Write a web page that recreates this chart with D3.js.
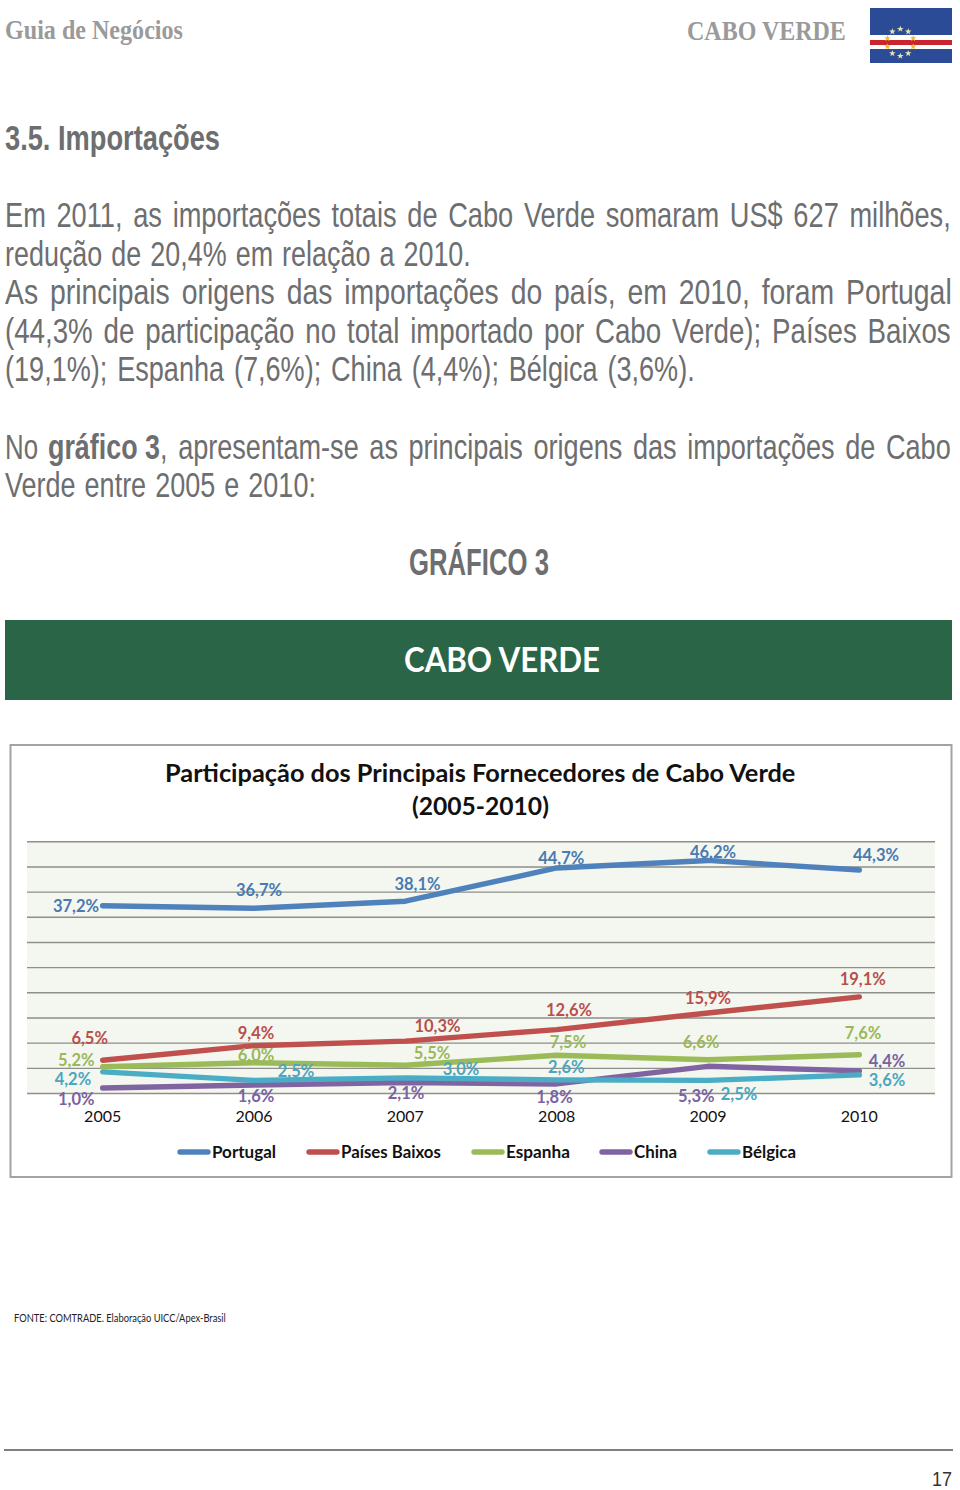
<!DOCTYPE html>
<html>
<head>
<meta charset="utf-8">
<script src="https://cdn.jsdelivr.net/npm/d3@7"></script>
<style>
  html, body { margin: 0; padding: 0; background: #fff; }
  svg { display: block; }
</style>
</head>
<body>
<div id="page"></div>
<script>
var years = ['2005', '2006', '2007', '2008', '2009', '2010'];
var seriesNames = ['Portugal', 'Países Baixos', 'Espanha', 'China', 'Bélgica'];
var portugal = [37.2, 36.7, 38.1, 44.7, 46.2, 44.3];
var paisesBaixos = [6.5, 9.4, 10.3, 12.6, 15.9, 19.1];
var espanha = [5.2, 6.0, 5.5, 7.5, 6.6, 7.6];
var china = [1.0, 1.6, 2.1, 1.8, 5.3, 4.4];
var belgica = [4.2, 2.5, 3.0, 2.6, 2.5, 3.6];
var gridTicks = [0, 5, 10, 15, 20, 25, 30, 35, 40, 45, 50];

var lineColors = ['#4f81bd', '#c0504d', '#9bbb59', '#8064a2', '#4bacc6'];
var labelColors = ['#4a7ab0', '#b94f4c', '#9ab75c', '#7b62a0', '#4ba6bf'];

// where each value label sits relative to its point
var labelDx = [
    [-26.7, 5, 12.2, 4.6, 5, 16.7],
    [-13, 2, 32.2, 12.3, 0, 3.4],
    [-26.4, 2, 26.7, 11.3, -7, 3.7],
    [-26.4, 2, 0.7, -2.2, -11.7, 27.7],
    [-29.7, 42, 55.7, 9.6, 31, 27.7]
];
var labelDy = [
    [6.3, -12.6, -11.2, -4, -2.4, -9.3],
    [-16.3, -6.7, -9.1, -13.6, -9, -11.8],
    [-1.1, -2.1, -6.6, -7.2, -11.8, -16],
    [17, 17, 16.6, 19, 35.4, -4.2],
    [12.8, -3.7, -2.9, -7.2, 19.6, 11.1]
];
var legendLineX = [177, 306, 471, 599, 707];
var legendTextWidth = [64, 100, 64, 43, 54];

var grey = '#6d6e70',
    narrow = '"Liberation Sans Narrow", "Liberation Sans", sans-serif',
    serif = '"Liberation Serif", serif',
    chartFont = 'Lato, "Open Sans", sans-serif';

var svg = d3.select('#page').append('svg')
    .attr('width', 960)
    .attr('height', 1490);

svg.append('rect')
    .attr('width', 960)
    .attr('height', 1490)
    .attr('fill', '#fff');

// every text is scaled horizontally to the width it has on the page
var put = function(parent, str, x, y, width, size, family, color, weight, wordGap) {
    var text = parent.append('text')
        .style('font-family', family)
        .style('font-size', size + 'px')
        .style('font-weight', weight || 'normal')
        .style('word-spacing', (wordGap || 0) + 'px')
        .attr('fill', color)
        .text(str);
    var sx = width / text.node().getComputedTextLength();
    return text.attr('transform', 'translate(' + x + ',' + y + ') scale(' + sx + ',1)');
};

// page header
put(svg, 'Guia de Negócios', 5, 39, 178, 27, serif, '#9a9a9a', 'bold');
put(svg, 'CABO VERDE', 687, 40, 159, 27, serif, '#9a9a9a', 'bold');

var flag = svg.append('g');
flag.append('rect').attr('x', 870).attr('y', 8).attr('width', 82).attr('height', 55).attr('fill', '#2c4b96');
flag.append('rect').attr('x', 870).attr('y', 35).attr('width', 82).attr('height', 14).attr('fill', '#fff');
flag.append('rect').attr('x', 870).attr('y', 40).attr('width', 82).attr('height', 5).attr('fill', '#c9252f');
flag.selectAll('path')
    .data(d3.range(10))
    .enter()
    .append('path')
    .attr('d', d3.symbol().type(d3.symbolStar).size(14))
    .attr('fill', function(d) { return d === 2 || d === 3 || d === 7 || d === 8 ? '#f0b93a' : '#e9e6b0'; })
    .attr('transform', function(d) {
        var angle = d * Math.PI / 5;
        return 'translate(' + (900.3 + 13.5 * Math.sin(angle)) + ',' + (42.5 - 13.5 * Math.cos(angle)) + ')';
    });

// page text
put(svg, '3.5. Importações', 5, 150, 215, 35, narrow, grey, 'bold');
put(svg, 'Em 2011, as importações totais de Cabo Verde somaram US$ 627 milhões,', 5, 227, 946, 35, narrow, grey, 'normal', 4);
put(svg, 'redução de 20,4% em relação a 2010.', 5, 266, 466, 35, narrow, grey, 'normal', 2);
put(svg, 'As principais origens das importações do país, em 2010, foram Portugal', 5, 304, 947, 35, narrow, grey, 'normal', 5);
put(svg, '(44,3% de participação no total importado por Cabo Verde); Países Baixos', 5, 343, 946, 35, narrow, grey, 'normal', 4);
put(svg, '(19,1%); Espanha (7,6%); China (4,4%); Bélgica (3,6%).', 5, 381, 690, 35, narrow, grey, 'normal', 3);
put(svg, 'No', 5, 459, 33, 35, narrow, grey);
put(svg, 'gráfico 3', 48, 459, 112, 35, narrow, grey, 'bold');
put(svg, ', apresentam-se as principais origens das importações de Cabo', 160, 459, 791, 35, narrow, grey, 'normal', 4);
put(svg, 'Verde entre 2005 e 2010:', 5, 497, 311, 35, narrow, grey, 'normal', 2);
put(svg, 'GRÁFICO 3', 409, 575, 140, 37, narrow, grey, 'bold');

svg.append('rect').attr('x', 5).attr('y', 620).attr('width', 947).attr('height', 80).attr('fill', '#2b6548');
put(svg, 'CABO VERDE', 404, 672, 196, 34, chartFont, '#fff', 'bold');

// chart
svg.append('rect')
    .attr('x', 10.5).attr('y', 745)
    .attr('width', 941).attr('height', 432)
    .attr('fill', '#fff')
    .attr('stroke', '#a3a3a3')
    .attr('stroke-width', 2);

put(svg, 'Participação dos Principais Fornecedores de Cabo Verde', 165, 782, 631, 25, chartFont, '#111', 'bold');
put(svg, '(2005-2010)', 412, 815, 137, 25, chartFont, '#111', 'bold');

var x = d3.scalePoint().domain(years).range([27, 935]).padding(0.5),
    y = d3.scaleLinear().domain([0, 50]).range([1093, 841.3]);

svg.append('rect')
    .attr('x', 27).attr('y', y(50))
    .attr('width', 908).attr('height', y(0) - y(50))
    .attr('fill', '#f4f7ef');

var grid = svg.append('g')
    .attr('transform', 'translate(27,0)')
    .call(d3.axisLeft(y).tickValues(gridTicks).tickSize(-908).tickFormat(''));
grid.select('.domain').remove();
grid.selectAll('line').attr('stroke', '#8e8e8a').attr('stroke-width', 1.4);

var xAxis = svg.append('g')
    .attr('transform', 'translate(0,1093)')
    .call(d3.axisBottom(x).tickSize(0).tickPadding(17.5));
xAxis.select('.domain').remove();
xAxis.selectAll('text')
    .attr('dx', -0.5)
    .attr('dy', '0.71em')
    .style('font-family', chartFont)
    .style('font-size', '16px')
    .attr('fill', '#111');

var series = [portugal, paisesBaixos, espanha, china, belgica];
var line = d3.line()
    .x(function(d, i) { return x(years[i]); })
    .y(function(d) { return y(d); });

svg.selectAll('.series')
    .data(series)
    .enter()
    .append('path')
    .attr('class', 'series')
    .attr('d', line)
    .attr('fill', 'none')
    .attr('stroke', function(d, i) { return lineColors[i]; })
    .attr('stroke-width', 5.4)
    .attr('stroke-linecap', 'round')
    .attr('stroke-linejoin', 'round');

var fmt = function(v) { return v.toFixed(1).replace('.', ',') + '%'; };

series.forEach(function(values, s) {
    svg.selectAll('.label' + s)
        .data(values)
        .enter()
        .append('text')
        .attr('class', 'label' + s)
        .attr('x', function(d, i) { return x(years[i]) + labelDx[s][i]; })
        .attr('y', function(d, i) { return y(d) + labelDy[s][i]; })
        .attr('text-anchor', 'middle')
        .style('font-family', chartFont)
        .style('font-size', '16.5px')
        .style('font-weight', 'bold')
        .attr('fill', labelColors[s])
        .text(fmt);
});

// legend
seriesNames.forEach(function(name, i) {
    svg.append('line')
        .attr('x1', legendLineX[i] + 3).attr('x2', legendLineX[i] + 31)
        .attr('y1', 1152).attr('y2', 1152)
        .attr('stroke', lineColors[i])
        .attr('stroke-width', 5.4)
        .attr('stroke-linecap', 'round');
    put(svg, name, legendLineX[i] + 35, 1157.5, legendTextWidth[i], 17, chartFont, '#111', 'bold');
});

// page footer
put(svg, 'FONTE: COMTRADE. Elaboração UICC/Apex-Brasil', 14, 1322, 212, 11, chartFont, '#222');
svg.append('line')
    .attr('x1', 4).attr('x2', 953)
    .attr('y1', 1450).attr('y2', 1450)
    .attr('stroke', '#555')
    .attr('stroke-width', 1.5);
put(svg, '17', 932, 1486, 20, 20, '"Liberation Sans", sans-serif', '#333');
</script>
</body>
</html>
